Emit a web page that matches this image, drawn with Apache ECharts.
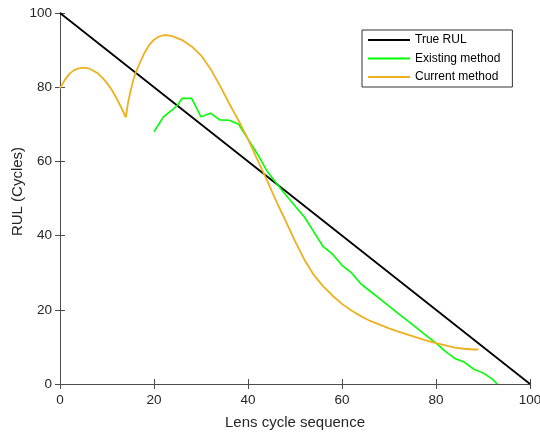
<!DOCTYPE html>
<html>
<head>
<meta charset="utf-8">
<script src="https://cdn.jsdelivr.net/npm/echarts@6/dist/echarts.min.js"></script>
<style>html,body{margin:0;padding:0;background:#fff}#c{width:540px;height:432px}</style>
</head>
<body>
<div id="c"></div>
<script>
var trueX = [0, 100];
var trueY = [100, 0];
var existingX = [20,22,24,25,26,28,30,32,34,36,38,40,42,44,46,48,50,52,54,56,58,60,62,64,66,68,70,72,74,76,78,80,82,84,86,88,90,92,93];
var existingY = [68,72,74,75.2,77,77,72,73,71.2,71.1,70,66,62,57.5,54.2,51,48,45,41,37,35,32,30,27,25,23,21,19,17,15,13,11,8.8,6.9,5.9,4,3,1.3,0];
var currentX = [0,1,2,3,4,5,6,7,8,9,10,11,12,13,14,14.5,15,15.5,16,17,18,19,20,21,22,23,24,26,28,30,32,34,36,38,40,42,44,46,48,50,52,54,56,58,60,62,64,66,68,70,72,74,76,78,80,82,84,86,88,89];
var currentY = [79.7,81.9,83.6,84.6,85.1,85.3,85.1,84.5,83.8,82.6,81.1,79.3,77.1,74.6,71.9,76.0,78.9,81.5,83.6,86.6,89.3,91.4,92.8,93.6,94.0,94.0,93.7,92.7,91.0,88.6,85.0,80.5,75.6,71.0,66.0,60.5,55.0,49.3,44.0,38.5,33.5,29.4,26.3,23.8,21.6,19.8,18.3,17.0,16.0,15.0,14.1,13.3,12.5,11.7,11.0,10.4,9.8,9.5,9.3,9.3];
var xTicks = [0,20,40,60,80,100];
var yTicks = [0,20,40,60,80,100];
var seriesNames = ['True RUL', 'Existing method', 'Current method'];

function pairs(xs, ys) { return xs.map(function (x, i) { return [x, ys[i]]; }); }

var axisColor = '#4d4d4d';
var labelColor = '#262626';
var font = 'Liberation Sans, Arial, sans-serif';

var chart = echarts.init(document.getElementById('c'), null, {renderer: 'canvas'});
chart.setOption({
  animation: false,
  backgroundColor: '#fff',
  grid: {left: 60, right: 10, top: 13, bottom: 48, containLabel: false, outerBoundsMode: 'none'},
  legend: {
    orient: 'vertical', left: 362, top: 30,
    data: seriesNames,
    icon: 'rect', itemWidth: 42, itemHeight: 2, itemGap: 4.5,
    padding: [3, 12, 3, 6],
    borderColor: '#333', borderWidth: 1, backgroundColor: '#fff',
    textStyle: {fontSize: 12, fontFamily: font, color: '#000', lineHeight: 14}
  },
  xAxis: [{
    type: 'value', min: 0, max: 100, interval: 20,
    name: 'Lens cycle sequence', nameLocation: 'middle', nameGap: 31, nameMoveOverlap: false,
    nameTextStyle: {fontSize: 15, fontFamily: font, color: labelColor},
    axisLine: {lineStyle: {color: axisColor, width: 1}},
    axisTick: {inside: true, length: 5, lineStyle: {color: axisColor}},
    axisLabel: {fontSize: 13.5, fontFamily: font, color: labelColor, margin: 9,
      formatter: function (v) { return xTicks.indexOf(v) >= 0 ? String(v) : ''; }},
    splitLine: {show: false}
  }, {
    type: 'value', min: 0, max: 100, interval: 20, position: 'top',
    axisLine: {show: true, lineStyle: {color: axisColor, width: 1}},
    axisTick: {show: true, inside: true, length: 5, lineStyle: {color: axisColor}},
    axisLabel: {show: false}, splitLine: {show: false}
  }],
  yAxis: [{
    type: 'value', min: 0, max: 100, interval: 20,
    name: 'RUL (Cycles)', nameLocation: 'middle', nameGap: 35, nameRotate: 90, nameMoveOverlap: false,
    nameTextStyle: {fontSize: 15, fontFamily: font, color: labelColor, padding: [0, 0, 0, 14]},
    axisLine: {show: true, lineStyle: {color: axisColor, width: 1}},
    axisTick: {show: true, inside: true, length: 5, lineStyle: {color: axisColor}},
    axisLabel: {fontSize: 13.5, fontFamily: font, color: labelColor, margin: 8,
      formatter: function (v) { return yTicks.indexOf(v) >= 0 ? String(v) : ''; }},
    splitLine: {show: false}
  }, {
    type: 'value', min: 0, max: 100, interval: 20, position: 'right',
    axisLine: {show: true, lineStyle: {color: axisColor, width: 1}},
    axisTick: {show: true, inside: true, length: 5, lineStyle: {color: axisColor}},
    axisLabel: {show: false}, splitLine: {show: false}
  }],
  series: [{
    name: seriesNames[0], type: 'line', data: pairs(trueX, trueY),
    showSymbol: false, lineStyle: {color: '#000', width: 1.8}, itemStyle: {color: '#000'}, z: 3
  }, {
    name: seriesNames[1], type: 'line', data: pairs(existingX, existingY),
    showSymbol: false, lineStyle: {color: '#00ff00', width: 1.6}, itemStyle: {color: '#00ff00'}, z: 4
  }, {
    name: seriesNames[2], type: 'line', data: pairs(currentX, currentY),
    showSymbol: false, lineStyle: {color: '#edb120', width: 1.8}, itemStyle: {color: '#edb120'}, z: 5
  }]
});
</script>
</body>
</html>
